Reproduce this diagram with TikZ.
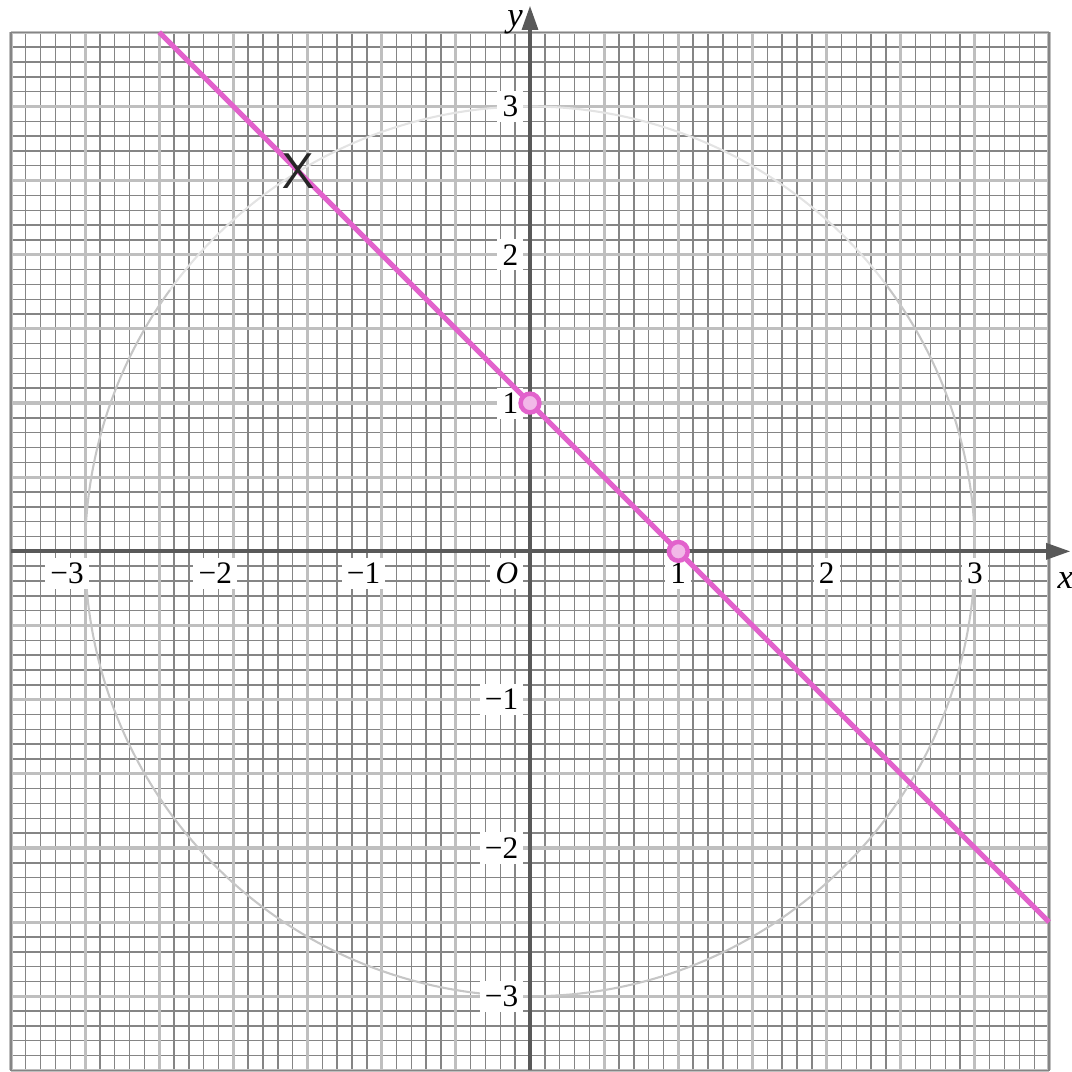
\documentclass[tikz,border=0pt]{standalone}
\usepackage{fontspec}
\setmainfont{Liberation Serif}
\usetikzlibrary{arrows.meta}
\definecolor{pinkline}{RGB}{226,98,204}

\begin{document}
\begin{tikzpicture}[scale=1.5,
    finegrid/.style={black!48, line width=0.42pt},
    majorgrid/.style={black!25, line width=0.9pt},
    axisline/.style={black!65, line width=1.2pt, -{Triangle[length=7pt,width=4.5pt]}},
    ticklab/.style={font=\small, fill=white, inner sep=1.5pt},
    curve/.style={pinkline, line width=1.5pt},
    ring/.style={circle, draw=pinkline, fill=pinkline!45, line width=1.3pt, minimum size=1.9mm, inner sep=0pt}]
    \useasboundingbox (-3.574,-3.509) rectangle (3.655,3.718);
    \def\rad{3}
    \draw[finegrid, step=0.1] (-3.5,-3.5) grid (3.5,3.5);
    \draw[majorgrid, step=0.5] (-3.5,-3.5) grid (3.5,3.5);
    \draw[finegrid] (-3.5,-3.5) rectangle (3.5,3.5);
    \draw[gray!45, line width=0.6pt] (37:\rad) arc[start angle=37, end angle=-216, radius=\rad];
    \draw[gray!22, line width=0.6pt] (144:\rad) arc[start angle=144, end angle=37, radius=\rad];
    \foreach \n in {1,2,3} {
        \node[ticklab, anchor=north] (xt\n) at (\n,-0.04) {\n};
        \node[ticklab, anchor=east] (yt\n) at (-0.04,\n) {\n};
        \node[ticklab, anchor=north east] (xm\n) at (-\n+0.03,-0.04) {−\n};
        \node[ticklab, anchor=east] (ym\n) at (-0.04,-\n) {−\n};
    }
    \node[ticklab, anchor=north east] (orig) at (-0.04,-0.04) {\textit{O}};
    \draw[axisline] (-3.5,0) -- (3.645,0);
    \draw[axisline] (0,-3.5) -- (0,3.68);
    \node (xlab) at (3.61,-0.2) {\textit{x}};
    \node (ylab) at (-0.1,3.57) {\textit{y}};
    \coordinate (lntop) at (-2.5,3.5);
    \coordinate (lnbot) at (3.5,-2.5);
    \draw[curve] (lntop) -- (lnbot);
    \node[ring] (ptA) at (0,1) {};
    \node[ring] (ptB) at (1,0) {};
    \node[font=\sffamily\Large, text=black!85, inner sep=0pt] (cross) at ({(1-sqrt(17))/2},{(1+sqrt(17))/2}) {X};
\end{tikzpicture}
\end{document}
